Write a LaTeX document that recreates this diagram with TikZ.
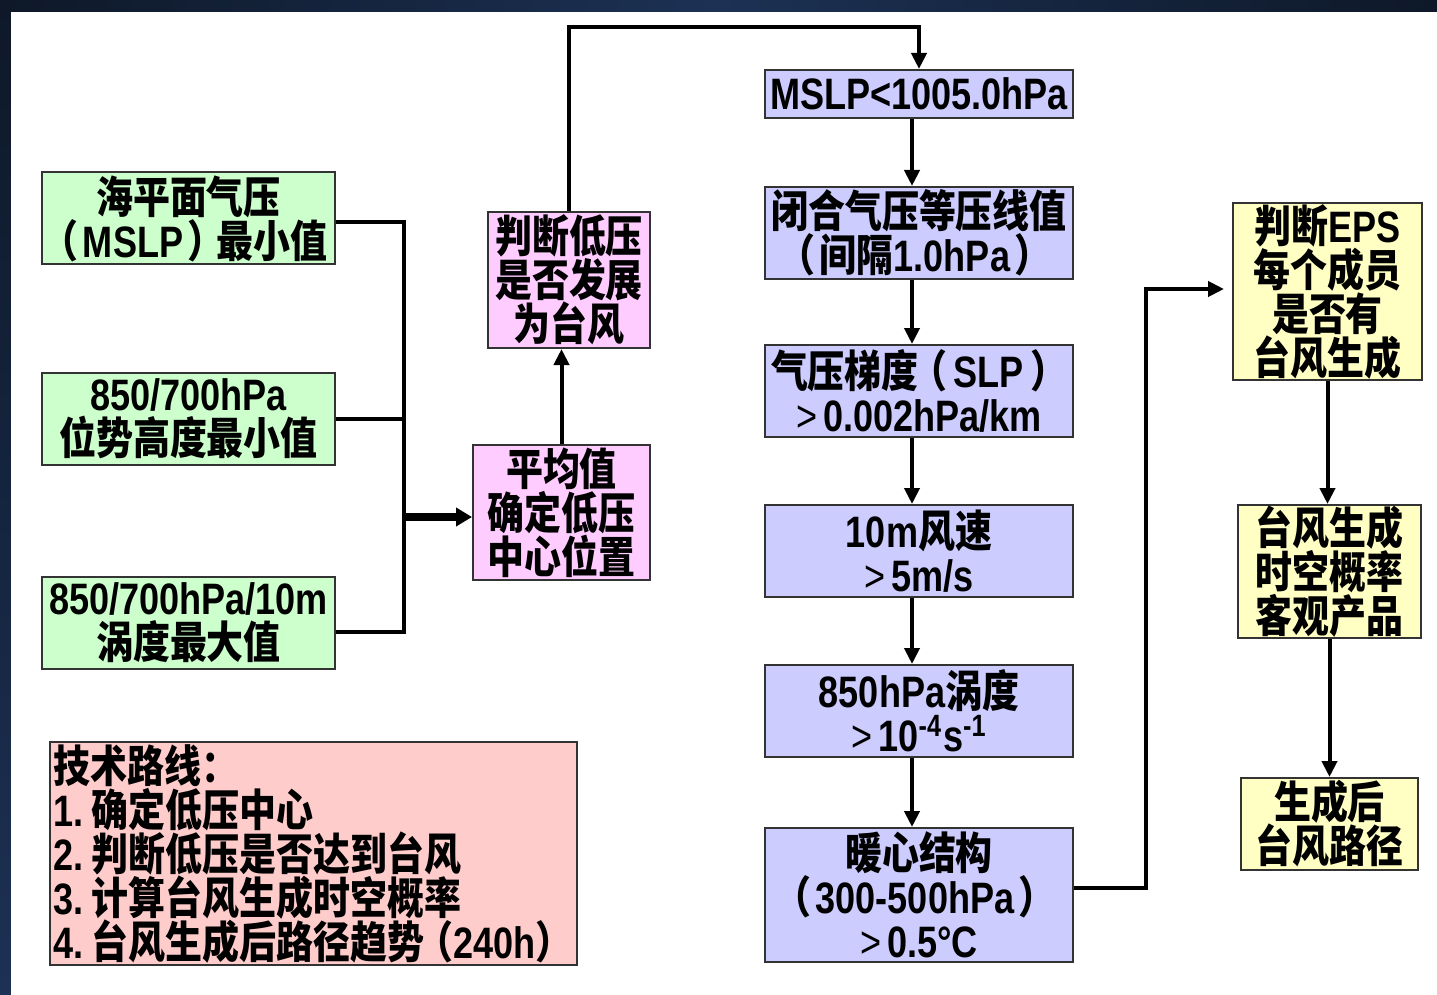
\documentclass[tikz,border=0pt]{standalone}
\usepackage{fontspec}
\usetikzlibrary{arrows.meta}
\newfontfamily\cjk{Noto Sans CJK SC}[FakeStretch=0.84]
\newfontfamily\latf{Liberation Sans}[FakeStretch=0.82]
\newcommand\La[1]{{\latf\bfseries #1}}
\newcommand\lpar{\hspace{-4pt}（}
\newcommand\rpar{）\hspace{-4pt}}
\newcommand\gtsym{{\latf\mdseries >}\hspace{3pt}}
\definecolor{gfill}{HTML}{CCFFCC}
\definecolor{pfill}{HTML}{FFCCFF}
\definecolor{bfill}{HTML}{CCCCFF}
\definecolor{yfill}{HTML}{FFFFC4}
\definecolor{rfill}{HTML}{FFCCCC}
\definecolor{bord}{HTML}{333333}
\definecolor{navyA}{HTML}{0E1828}
\definecolor{navyB}{HTML}{1C3154}
\tikzset{
  box/.style={draw=bord, line width=1pt, inner sep=0pt, align=center,
    font=\cjk\bfseries\fontsize{22pt}{22pt}\selectfont},
  gbox/.style={box, fill=gfill, minimum width=146.5pt, minimum height=46pt},
  pbox/.style={box, fill=pfill},
  bbox/.style={box, fill=bfill, minimum width=154pt, minimum height=46pt},
  ybox/.style={box, fill=yfill},
  rbox/.style={box, fill=rfill, align=left, text width=260pt, inner xsep=1.75pt},
  conn/.style={line width=2pt, draw=black},
  arr/.style={conn, -{Triangle[length=8pt,width=7.5pt]}},
  bigarr/.style={line width=4pt, -{Triangle[length=8pt,width=9pt]}},
}
\begin{document}
\begin{tikzpicture}[x=0.5pt,y=-0.5pt]
\useasboundingbox (0,0) rectangle (1437,995);
% frame
\fill[navyA] (0,0) rectangle (1437,995);
\shade[left color=navyA, right color=navyA, middle color=navyB] (0,0) rectangle (1437,12);
\shade[top color=navyA, bottom color=navyB] (0,0) rectangle (11,995);
\fill[white] (11,12) rectangle (1437,995);

% green input boxes
\node[gbox] (g1) at (188.5,218.5) {海平面气压\\\lpar\hspace{2pt}\La{MSLP}\hspace{2pt}\rpar 最小值};
\node[gbox] (g2) at (188.5,419) {\La{850/700hPa}\\位势高度最小值};
\node[gbox] (g3) at (188.5,622.5) {\La{850/700hPa/10m}\\涡度最大值};

% pink boxes
\node[pbox, minimum width=88.5pt, minimum height=67.5pt] (p1) at (561.5,512.5) {平均值\\确定低压\\中心位置};
\node[pbox, minimum width=81pt, minimum height=68pt] (p2) at (569,280) {判断低压\\是否发展\\为台风};

% blue criteria column
\node[bbox, minimum height=24pt] (b1) at (919,94) {\La{MSLP<1005.0hPa}};
\node[bbox] (b2) at (919,233) {闭合气压等压线值\\\lpar\hspace{2pt}间隔\La{1.0hPa}\hspace{2pt}\rpar};
\node[bbox] (b3) at (919,391) {气压梯度\lpar\hspace{3pt}\La{SLP}\hspace{3pt}\rpar\\\gtsym\La{0.002hPa/km}};
\node[bbox] (b4) at (919,551) {\La{10m}风速\\\gtsym\La{5m/s}};
\node[bbox] (b5) at (919,711) {\La{850hPa}涡度\\\gtsym\La{10\textsuperscript{-4}\hspace{0.5pt}s\textsuperscript{-1}}};
\node[bbox, minimum height=67pt] (b6) at (919,895) {暖心结构\\\lpar\hspace{2pt}\La{300-500hPa}\hspace{2pt}\rpar\\\gtsym\La{0.5°C}};

% yellow boxes
\node[ybox, minimum width=94.5pt, minimum height=88.5pt] (y1) at (1327.5,291.5) {判断\La{EPS}\\每个成员\\是否有\\台风生成};
\node[ybox, minimum width=91.5pt, minimum height=66.5pt] (y2) at (1329.5,571.5) {台风生成\\时空概率\\客观产品};
\node[ybox, minimum width=88.5pt, minimum height=46pt] (y3) at (1329.5,824) {生成后\\台风路径};

% technical route box
\node[rbox, minimum height=111.5pt] (r) at (313.5,853.5) {\mbox{技术路线：}\\\mbox{\La{1.}\hspace{4pt}确定低压中心}\\\mbox{\La{2.}\hspace{4pt}判断低压是否达到台风}\\\mbox{\La{3.}\hspace{4pt}计算台风生成时空概率}\\\mbox{\La{4.}\hspace{4pt}台风生成后路径趋势\lpar\La{240h}）}};

% connectors
\coordinate (j) at (404,517);
\draw[conn] ([yshift=-1.75pt]g1.east) -| (j);
\draw[conn] ([yshift=-4.75pt]g3.east) -| (j);
\draw[conn] (g2.east) -- (g2.east -| j);
\draw[bigarr] (j) -- (j -| p1.west);
\draw[arr] (p1.north) -- (p1.north |- p2.south);
\coordinate (tc) at (919,27);
\draw[arr] (p2.north) |- (tc) -- (b1.north);
\draw[arr] ([xshift=-3.5pt]b1.south) -- ([xshift=-3.5pt]b2.north);
\draw[arr] ([xshift=-3.5pt]b2.south) -- ([xshift=-3.5pt]b3.north);
\draw[arr] ([xshift=-3.5pt]b3.south) -- ([xshift=-3.5pt]b4.north);
\draw[arr] ([xshift=-3.5pt]b4.south) -- ([xshift=-3.5pt]b5.north);
\draw[arr] ([xshift=-3.5pt]b5.south) -- ([xshift=-3.5pt]b6.north);
\coordinate (k) at (1146,289);
\draw[arr, shorten >=4pt] ([yshift=3.5pt]b6.east) -| (k) -- (k -| y1.west);
\draw[arr] (y1.south) -- (y1.south |- y2.north);
\draw[arr] (y2.south) -- (y2.south |- y3.north);
\end{tikzpicture}
\end{document}
